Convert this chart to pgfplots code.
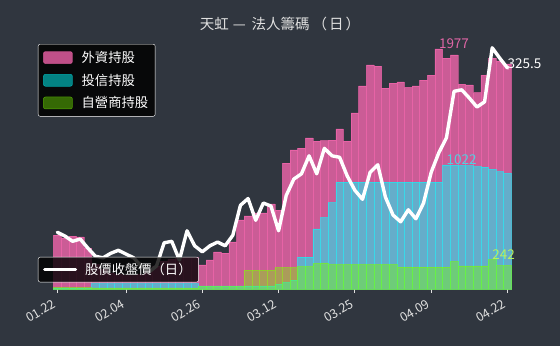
\documentclass[border=0pt]{standalone}
\usepackage{fontspec}
\setmainfont{Noto Sans CJK TC}
\usepackage{pgfplots}
\usepackage{pgfplotstable}
\pgfplotsset{compat=1.18}
\definecolor{bg}{HTML}{30363F}
\definecolor{fpink}{HTML}{FF69B4}
\definecolor{tcyan}{HTML}{00FFFF}
\definecolor{dgreen}{HTML}{7CFC00}
\definecolor{txt}{HTML}{E0E0E0}
\definecolor{lpink}{HTML}{E066A6}
\definecolor{lcyan}{HTML}{4FD1E0}
\definecolor{lgreen}{HTML}{B8F060}

\pgfplotstableread{
x f t d p
0 444 10 12 216
1 420 10 12 213.5
2 436 10 12 210
3 428 10 12 211.5
4 337 10 12 205.5
5 200 45 10 200
6 160 45 10 199
7 130 45 10 202
8 120 45 10 204
9 110 45 10 201.5
10 110 45 10 199
11 120 45 10 193.5
12 150 45 10 189.5
13 190 45 10 193.5
14 230 45 10 209
15 245 45 10 210
16 255 45 10 197.5
17 258 45 10 217
18 258 45 10 207
19 198 25 20 203
20 239 25 20 207
21 305 25 20 209.5
22 296 25 20 207
23 387 25 20 214
24 568 25 20 234
25 601 25 156 238.5
26 626 25 156 224
27 626 25 156 235.5
28 700 25 156 233.5
29 650 40 175 217
30 1037 55 175 240.5
31 1144 74 175 251.5
32 1160 263 184 255
33 1243 263 184 267
34 1218 494 211 255
35 1222 587 216 272
36 1226 710 200 267
37 1317 880 200 266
38 1218 880 200 253.5
39 1449 880 200 244
40 1671 880 200 238
41 1844 880 200 256
42 1835 880 200 261
43 1654 880 200 239.5
44 1695 880 200 227.5
45 1704 880 180 223
46 1660 880 180 231
47 1671 880 180 225
48 1720 880 180 235.5
49 1761 880 180 256
50 1977 880 180 269
51 1901 1022 180 279
52 1926 1020 225 310
53 1687 1018 190 311
54 1679 1015 190 305.5
55 1616 1008 190 299.5
56 1761 1004 190 303
57 1901 985 242 339
58 1877 965 192 332
59 1852 952 192 325.5
}\data

\begin{document}
\begin{tikzpicture}
\useasboundingbox (0,0) rectangle (560pt,346pt);
\fill[bg] (0,0) rectangle (560pt,346pt);
\node[text=txt, font=\fontsize{14.5}{16}\selectfont] at (280pt,322.5pt) {天虹\hspace{4pt}—\hspace{6pt}法人籌碼\hspace{3pt}（\hspace{2pt}日\hspace{2pt}）};
\begin{axis}[
  at={(53.5pt,57pt)}, anchor=south west, scale only axis,
  width=457.8pt, height=252pt,
  xmin=-0.5, xmax=59.5, ymin=0, ymax=2074,
  clip=false,
  axis x line*=bottom, axis y line=none, axis line style={draw=none},
  xtick={0,9,19,29,39,49,59},
  xticklabels={01.22,02.04,02.26,03.12,03.25,04.09,04.22},
  tick align=outside, major tick length=4pt,
  xtick style={color=txt, line width=0.8pt},
  xticklabel style={rotate=30, anchor=north east, text=txt, font=\fontsize{12.5}{14}\selectfont, inner sep=1pt, xshift=-6.5pt, yshift=-1.5pt},
  ybar, bar width=1, bar shift=0pt,
  legend cell align=left,
  legend style={at={(-0.0339,0.9722)}, anchor=north west, fill=black, fill opacity=0.85,
    text opacity=1, draw=white!65, draw opacity=1, rounded corners=2pt, text=white!92,
    font=\fontsize{13.3}{15}\selectfont, inner xsep=5pt, inner ysep=5pt, row sep=6pt,
    /tikz/every odd column/.style={column sep=7pt}},
]
\addplot[ybar, bar width=1, bar shift=0pt, fill=fpink, fill opacity=0.75, draw=fpink, draw opacity=0.55, line width=0.5pt,
  legend image code/.code={\fill[fpink, fill opacity=0.75] (0pt,-6pt) rectangle (29pt,6pt);}]
  table[x=x,y=f]{\data};
\addlegendentry{外資持股}
\addplot[ybar, bar width=1, bar shift=0pt, fill=tcyan, fill opacity=0.5, draw=tcyan, draw opacity=0.5, line width=0.5pt,
  legend image code/.code={\fill[tcyan, fill opacity=0.5] (0pt,-6pt) rectangle (29pt,6pt);}]
  table[x=x,y=t]{\data};
\addlegendentry{投信持股}
\addplot[ybar, bar width=1, bar shift=0pt, fill=dgreen, fill opacity=0.4, draw=dgreen, draw opacity=0.5, line width=0.5pt,
  legend image code/.code={\fill[dgreen, fill opacity=0.4] (0pt,-6pt) rectangle (29pt,6pt);}]
  table[x=x,y=d]{\data};
\addlegendentry{自營商持股}
\node[anchor=base west, text=lpink, font=\fontsize{13.5}{15}\selectfont, inner sep=0pt] at (axis cs:50,1977) {1977};
\node[anchor=base west, text=lcyan, font=\fontsize{13.5}{15}\selectfont, inner sep=0pt] at (axis cs:51,1022) {1022};
\node[anchor=base west, text=lgreen, font=\fontsize{13.5}{15}\selectfont, inner sep=0pt] at (axis cs:57,242) {242};
\end{axis}
\begin{axis}[
  at={(53.5pt,57pt)}, anchor=south west, scale only axis,
  width=457.8pt, height=252pt,
  xmin=-0.5, xmax=59.5, ymin=178.2, ymax=346.2,
  hide axis, clip=false,
  legend cell align=left,
  legend style={at={(-0.0339,0.127)}, anchor=north west, fill=black, fill opacity=0.8,
    text opacity=1, draw=white!65, draw opacity=1, rounded corners=2pt, text=white!92,
    font=\fontsize{13.3}{15}\selectfont, inner xsep=5pt, inner ysep=4pt,
    /tikz/every odd column/.style={column sep=6pt}},
]
\addplot[white, line width=3.4pt, line join=round, line cap=round,
  legend image code/.code={\draw[white, line width=3pt] (0pt,0pt) -- (31pt,0pt);}]
  table[x=x,y=p]{\data};
\addlegendentry{股價收盤價（日）}
\node[anchor=base west, text=white, font=\fontsize{13.5}{15}\selectfont, inner sep=0pt] at (axis cs:59,325.5) {325.5};
\end{axis}
\end{tikzpicture}
\end{document}
